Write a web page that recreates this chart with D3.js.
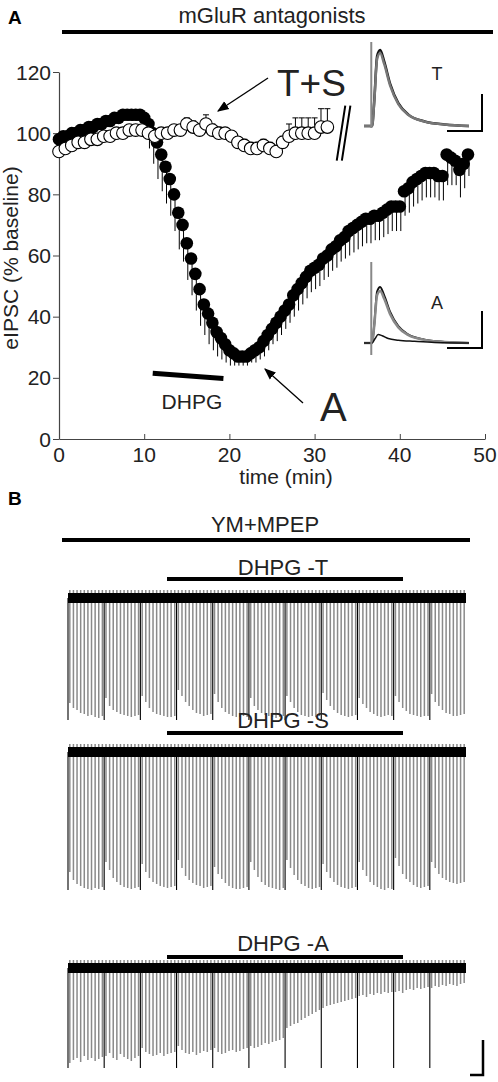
<!DOCTYPE html>
<html><head><meta charset="utf-8">
<script src="https://cdn.jsdelivr.net/npm/d3@7"></script>
<style>body{margin:0;background:#fff}svg{font-family:"Liberation Sans",Arial,sans-serif}</style>
</head><body>
<script>
// ---- Panel A data ----
const filledStart = 0, filledStep = 0.5;
const filledVals = [98,99,99,100,100,101,101,102,102,103,103,104,104,105,105,106,106,106,106,106,105,
 103,100,97,93,89,85,80,74,70,64,59,54,49,44,41,38,35,33,31,29,28,27,
 27,27,28,29,30,32,34,36,38,40,42,44,47,49,51,53,55,56,
 57,59,60,62,63,65,66,68,69,70,71,72,72,73,73,74,75,76,76,76,
 81,82,84,85,86,87,87,87,86,86,93,92,91,88,90,93];
const filledErr = [2,2,2,2,2,2,2,2,2,2,2,2,2,2,2,2,2,2,2,2,2,
 8,10,12,12,12,12,12,12,12,12,12,12,12,10,10,9,8,7,6,5,4,3,
 3,3,3,4,4,5,5,5,6,6,6,6,7,7,7,7,7,7,
 7,7,7,7,7,7,7,8,8,8,8,8,8,8,8,8,8,8,8,8,
 8,8,8,8,8,8,8,8,8,8,10,9,8,9,8,7];
const openStart = 0, openStep = 0.75;
const openVals = [94,95,96,97,97,98,98,99,99,100,100,101,101,101,100,99,100,100,101,101,103,102,101,103,101,100,100,99,97,96,95,95,96,95,94,97,99,100,100,100,100,102,102];
const openErr  = [1,1,1,1,1,1,1,1,1,1,1,1,1,1,1,1,1,1,1,1,2,2,2,3,2,2,1,1,1,2,2,2,2,2,2,2,4,5,5,5,5,6,6];
const xTicks = [0,10,20,30,40,50];
const yTicks = [0,20,40,60,80,100,120];
const dhpgBar = [11,19.3];
const waveCtrl = [[0,0],[4,0],[5,0.3],[6.5,0.92],[8,1],[10,0.85],[13,0.55],[17,0.3],[22,0.15],[30,0.06],[40,0.02],[52,0]];
const waveDhpg = [[0,0],[4,0],[5.5,0.08],[7,0.15],[9,0.13],[12,0.08],[17,0.05],[25,0.03],[35,0.01],[52,0]];
// ---- Panel B sweep amplitudes ----
const sweepsT = [105,110,112,115,116,118,117,119,120,118, 100,108,112,114,116,117,118,119,118,117, 98,104,110,114,116,117,118,119,119,118, 92,98,104,108,112,115,116,118,117,116, 96,104,110,114,116,118,119,119,118,119, 100,108,112,115,117,118,119,120,119,118, 98,104,110,114,117,118,119,118,119,118, 95,102,108,112,115,117,118,119,118,117, 100,106,110,114,116,118,119,118,117,118, 98,104,110,113,116,117,118,119,118,118, 96,104,108,112,115,116,118,118,117,116];
const sweepsS = [120,128,132,134,136,137,138,136,137,135, 110,118,126,130,133,135,136,137,136,135, 112,120,126,130,132,134,135,136,135,134, 108,116,124,128,131,133,134,136,135,134, 115,122,127,131,134,136,137,137,136,135, 110,118,125,130,133,135,136,137,138,136, 108,116,123,128,132,134,136,137,136,135, 112,120,126,130,133,135,136,137,136,135, 110,118,124,130,133,135,137,138,136,137, 106,114,122,127,130,133,135,136,135,134, 110,116,122,126,128,130,131,132,131,130];
const sweepsA = [95,92,90,94,88,92,90,93,91,89, 88,85,90,92,86,89,91,93,90,88, 80,84,86,88,87,85,88,86,85,84, 78,82,85,86,84,87,85,83,84,82, 80,84,86,85,83,82,84,83,81,80, 78,80,79,77,75,76,74,73,72,70, 60,58,56,55,52,50,48,46,44,42, 40,38,37,36,35,34,33,32,31,30, 28,27,29,26,27,25,26,24,25,24, 24,23,25,22,21,22,20,21,20,19, 20,18,19,17,18,16,17,18,16,15];
const boundaryDepth = [122,138,100];

const W=498,H=1082;
const svg=d3.select("body").append("svg").attr("width",W).attr("height",H);
function txt(x,y,s,size,anchor){return svg.append("text").attr("x",x).attr("y",y).attr("text-anchor",anchor||"middle").style("font-size",size+"px").attr("fill","#222").text(s);}

// ===== Panel A =====
const x=d3.scaleLinear().domain([0,50]).range([59,485]);
const y=d3.scaleLinear().domain([0,120]).range([439,72]);
txt(8,24,"A",19,"start").attr("font-weight","bold").attr("fill","#000");
txt(272,23,"mGluR antagonists",22);
svg.append("line").attr("x1",62).attr("x2",493).attr("y1",32).attr("y2",32).attr("stroke","#000").attr("stroke-width",4);

const gx=svg.append("g").attr("transform","translate(0,439)").call(d3.axisBottom(x).tickValues(xTicks).tickSize(-5).tickFormat("").tickSizeOuter(0));
const gy=svg.append("g").attr("transform","translate(59,0)").call(d3.axisLeft(y).tickValues(yTicks).tickSize(6).tickFormat("").tickSizeOuter(0));
[gx,gy].forEach(g=>{g.select(".domain").attr("stroke-width",1.2).attr("stroke","#444");g.selectAll(".tick line").attr("stroke","#444");});
xTicks.forEach(t=>txt(x(t),462,String(t),21));
yTicks.forEach(t=>txt(51,y(t)+7.5,String(t),21,"end"));
txt(286,484,"time (min)",21);
svg.append("text").attr("transform","translate(18,258) rotate(-90)").attr("text-anchor","middle").style("font-size","21px").attr("fill","#222").text("eIPSC (% baseline)");

const filled=filledVals.map((v,i)=>({t:filledStart+i*filledStep,v,e:filledErr[i]}));
const open=openVals.map((v,i)=>({t:openStart+i*openStep,v,e:openErr[i]}));
svg.append("g").selectAll("path").data(filled).join("path")
 .attr("d",d=>`M${x(d.t)+1},${y(d.v)}V${y(d.v-d.e)}`).attr("stroke","#000").attr("stroke-width",1);
svg.append("g").selectAll("path").data(open).join("path")
 .attr("d",d=>`M${x(d.t)},${y(d.v)}V${y(d.v+d.e)}M${x(d.t)-3},${y(d.v+d.e)}H${x(d.t)+3}`).attr("stroke","#000").attr("stroke-width",1);
svg.append("g").selectAll("circle").data(filled).join("circle")
 .attr("cx",d=>x(d.t)).attr("cy",d=>y(d.v)).attr("r",6.3).attr("fill","#000");
svg.append("g").selectAll("circle").data(open).join("circle")
 .attr("cx",d=>x(d.t)).attr("cy",d=>y(d.v)).attr("r",6.3).attr("fill","#fff").attr("stroke","#000").attr("stroke-width",1.1);

svg.append("path").attr("d",`M${x(32.6)},${y(91)}L${x(33.6)},${y(109)}M${x(33.2)},${y(91)}L${x(34.2)},${y(109)}`).attr("stroke","#000").attr("stroke-width",2);
svg.append("line").attr("x1",x(dhpgBar[0])).attr("x2",x(dhpgBar[1])).attr("y1",y(21.5)).attr("y2",y(19.8)).attr("stroke","#000").attr("stroke-width",5);
txt(x(15.6),409,"DHPG",21);
const defs=svg.append("defs");
defs.append("marker").attr("id","ah").attr("viewBox","0 0 10 10").attr("refX",9).attr("refY",5).attr("markerWidth",9).attr("markerHeight",9).attr("orient","auto")
 .append("path").attr("d","M0,1L10,5L0,9Z").attr("fill","#000");
svg.append("line").attr("x1",268).attr("y1",78).attr("x2",218).attr("y2",111).attr("stroke","#000").attr("stroke-width",1.3).attr("marker-end","url(#ah)");
svg.append("line").attr("x1",303).attr("y1",403).attr("x2",265).attr("y2",369).attr("stroke","#000").attr("stroke-width",1.3).attr("marker-end","url(#ah)");
txt(277,96,"T+S",37,"start");
txt(320,421,"A",40,"start");

const ix=d3.scaleLinear().domain([0,52]).range([364,469]);
function inset(y0,amp,lab,traces){
  const iy=d3.scaleLinear().domain([0,1]).range([y0,y0-amp]);
  const ln=d3.line().x(d=>ix(d[0])).y(d=>iy(d[1])).curve(d3.curveMonotoneX);
  traces.forEach(t=>svg.append("path").attr("d",ln(t.data.map(p=>[p[0],p[1]*t.k]))).attr("fill","none").attr("stroke",t.c).attr("stroke-width",t.w));
  txt(437,y0-amp*0.6,lab,18);
  svg.append("path").attr("d",`M447,${y0+5}H482V${y0-32}`).attr("fill","none").attr("stroke","#000").attr("stroke-width",2);
}
inset(126,76,"T",[{data:waveCtrl,k:1,c:"#111",w:2.5},{data:waveCtrl,k:0.96,c:"#777",w:2.5}]);
svg.append("line").attr("x1",ix(3.6)).attr("x2",ix(3.6)).attr("y1",128).attr("y2",42).attr("stroke","#888").attr("stroke-width",2);
inset(343,56,"A",[{data:waveCtrl,k:1,c:"#111",w:2},{data:waveCtrl,k:0.93,c:"#888",w:2.5},{data:waveDhpg,k:1,c:"#111",w:1.5}]);
svg.append("line").attr("x1",ix(3.6)).attr("x2",ix(3.6)).attr("y1",355).attr("y2",262).attr("stroke","#888").attr("stroke-width",2);

// ===== Panel B =====
txt(8,505,"B",19,"start").attr("font-weight","bold").attr("fill","#000");
txt(265,532,"YM+MPEP",22);
svg.append("line").attr("x1",62).attr("x2",470).attr("y1",540).attr("y2",540).attr("stroke","#000").attr("stroke-width",4);

function traceB(label,labY,barY,base,sweeps,bd){
  txt(283,labY,label,22);
  svg.append("line").attr("x1",167).attr("x2",403).attr("y1",barY).attr("y2",barY).attr("stroke","#000").attr("stroke-width",4);
  const sx=d3.scaleLinear().domain([0,sweeps.length]).range([68,466]);
  const g=svg.append("g");
  g.selectAll("line").data(sweeps).join("line")
   .attr("x1",(d,i)=>sx(i+0.5)).attr("x2",(d,i)=>sx(i+0.5)).attr("y1",base-8).attr("y2",d=>base+d)
   .attr("stroke","#8a8a8a").attr("stroke-width",1.5);
  const segs=d3.range(0,sweeps.length,10);
  g.selectAll(".b").data(segs).join("line").attr("class","b")
   .attr("x1",d=>sx(d)).attr("x2",d=>sx(d)).attr("y1",base).attr("y2",base+bd).attr("stroke","#000").attr("stroke-width",1.1);
  g.append("rect").attr("x",68).attr("width",398).attr("y",base-5).attr("height",10).attr("fill","#000");
}
traceB("DHPG -T",575,579,598,sweepsT,boundaryDepth[0]);
traceB("DHPG -S",728,733,752,sweepsS,boundaryDepth[1]);
traceB("DHPG -A",951,957,968,sweepsA,boundaryDepth[2]);
svg.append("path").attr("d","M470,1075H483V1040").attr("fill","none").attr("stroke","#000").attr("stroke-width",2.5);
</script>
</body></html>
